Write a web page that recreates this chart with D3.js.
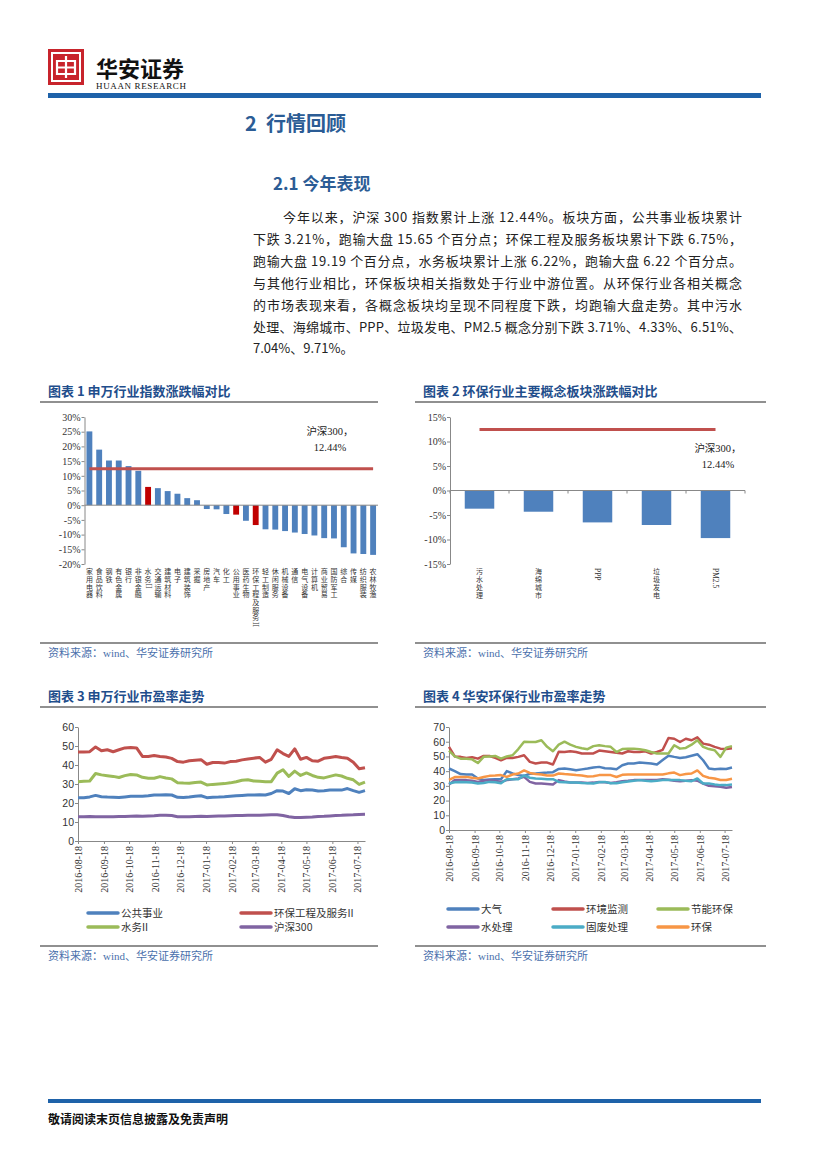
<!DOCTYPE html>
<html>
<head>
<meta charset="utf-8">
<title>华安证券 - 行情回顾</title>
<script src="https://cdn.jsdelivr.net/npm/d3@7"></script>
<style>
body { margin: 0; background: #fff; }
svg text { font-family: "Liberation Serif", "Noto Sans CJK SC", serif; fill: #222; }
.cjk { font-family: "Noto Sans CJK SC", sans-serif; }
</style>
</head>
<body>
<svg id="page" width="827" height="1169"></svg>
<script>
// ---------- data ----------
// chart 1: SW industry index change this year (%)
var industries = ["家用电器","食品饮料","钢铁","有色金属","银行","非银金融","水务II","交通运输","建筑材料","电子",
  "建筑装饰","采掘","房地产","汽车","化工","公用事业","医药生物","环保工程及服务II","轻工制造","休闲服务",
  "机械设备","通信","电气设备","计算机","商业贸易","国防军工","综合","传媒","纺织服装","农林牧渔"];
var industryChange = [25.1, 18.9, 15.2, 15.2, 13.3, 11.7, 6.22, 5.8, 4.8, 3.9,
  2.4, 1.7, -1.3, -1.4, -3.0, -3.21, -5.3, -6.75, -8.2, -8.3,
  -8.8, -9.3, -9.8, -10.3, -11.2, -11.3, -14.3, -16.4, -16.6, -16.9];
var highlighted = ["水务II","公用事业","环保工程及服务II"];
var hs300Change = 12.44;

// chart 2: environmental concept sectors (%)
var concepts = ["污水处理","海绵城市","PPP","垃圾发电","PM2.5"];
var conceptChange = [-3.71, -4.33, -6.51, -7.04, -9.71];

// charts 3 and 4: weekly P/E readings
var weekDates = ["2016-08-18","2016-08-25","2016-09-01","2016-09-08","2016-09-15","2016-09-22","2016-09-29","2016-10-06","2016-10-13","2016-10-20",
  "2016-10-27","2016-11-03","2016-11-10","2016-11-17","2016-11-24","2016-12-01","2016-12-08","2016-12-15","2016-12-22","2016-12-29",
  "2017-01-05","2017-01-12","2017-01-19","2017-01-26","2017-02-02","2017-02-09","2017-02-16","2017-02-23","2017-03-02","2017-03-09",
  "2017-03-16","2017-03-23","2017-03-30","2017-04-06","2017-04-13","2017-04-20","2017-04-27","2017-05-04","2017-05-11","2017-05-18",
  "2017-05-25","2017-06-01","2017-06-08","2017-06-15","2017-06-22","2017-06-29","2017-07-06","2017-07-13","2017-07-20","2017-07-27"];
var monthTicks = ["2016-08-18","2016-09-18","2016-10-18","2016-11-18","2016-12-18","2017-01-18",
  "2017-02-18","2017-03-18","2017-04-18","2017-05-18","2017-06-18","2017-07-18"];

var peGongyong = [22.8,22.8,23.2,24,23.3,23.1,23,22.9,23.2,23.5, 23.6,23.6,23.8,24.2,24.2,24.3,24.2,23,22.9,23.1,
  23.5,23.8,22.8,23,23.1,23.3,23.6,23.8,24,24.2, 24.2,24.3,24.2,25,26.5,26.3,25,27.5,26.5,27,
  26.8,26.3,26.5,26.8,26.8,26.8,27.6,26.5,25.6,26.5];
var peHuanbaoGc = [46.8,46.8,47,49.5,47.5,48,47,48,49,49.2, 49,44.5,44.5,45,44.5,44.2,43.5,41.8,41.5,42.2,
  42.5,42.8,40.4,41.3,41.3,41,41.8,42,42.7,43.2, 43.6,44,41.5,43,48,46,44.5,48.5,43,44,
  42.2,42,43.5,44,44.5,44,43.6,41.5,38,38.6];
var peShuiwu = [31.2,31.4,31.6,35.5,34.8,34.4,34,33.4,34.4,35, 34.8,33.5,33,33,33.9,33.2,32.7,30.7,30.5,30.4,
  30.8,31,29.5,29.8,30,30.2,30.6,31.2,32,32.2, 31.6,31.4,31.2,31.2,35.7,37.5,34,36.8,34.5,35.8,
  34.5,33.5,33.2,34,34.8,34.2,33,32.2,29.8,31];
var peHs300 = [12.7,12.8,12.9,12.8,12.7,12.7,12.8,12.9,12.9,13.0, 13.1,13.0,13.2,13.3,13.5,13.6,13.4,12.8,12.7,12.8,
  12.9,13.0,12.9,13.0,13.1,13.2,13.3,13.4,13.4,13.5, 13.5,13.6,13.7,13.8,13.8,13.4,12.8,12.4,12.4,12.5,
  12.6,12.9,13.0,13.2,13.4,13.5,13.7,13.8,14.0,14.1];

var peDaqi = [41.8,40,38,37.7,37.7,35,34,34.3,34.5,34.5, 40,38.5,37.3,36.8,38.2,38.4,38.8,39,39.3,41.5,
  41.8,41.3,40.6,41.2,41.8,42.5,42.9,42,41.8,41.3, 44,45.2,45.2,45.8,45.5,45.2,44.5,47.5,50.5,49.7,
  49,49.5,50.5,51.5,47.4,41.8,41.3,41.6,41.5,42.5];
var peJiance = [56.5,50,49.7,49,49.5,48.5,50.3,50.3,49,47.4, 49,49,49.7,50.8,46.3,45.2,45.8,45.8,44.5,53.2,
  53,53.5,53,52,52,52,54,53.5,53,52.5, 52,53.5,53,53,53.5,52,53,54.5,62.5,62,
  59.8,62,61,63,58.7,58,56.5,55.3,55,55.5];
var peJieneng = [54,50,48.5,48.5,48,45.5,49.7,50,50.3,48.5, 50,50.8,55,60,59.8,59.8,61,56.5,53.5,58,
  60,58,56.5,55.5,54.9,57,57.6,57,56.5,53, 55,55.3,55.3,54.9,54.2,53,52,52,52,57.6,
  55.3,55.8,58,61,56.5,55,54.2,49.7,56,57];
var peShuichuli = [31,33.9,33.9,33.9,33.5,32.7,33.5,33.9,33.5,32.7, 33.9,34.5,35,36.1,32.7,31.6,31.6,31.3,30.9,33.9,
  33,32.3,32.3,32.2,32,32.2,32.7,32.5,32,32.5, 33.2,33.5,33.9,33.9,33.9,33.9,34,34.5,34.2,33.5,
  33.2,33.5,33.9,33.5,31.6,30,29.8,29.4,28.7,29.2];
var peGufei = [31.6,32.5,32.7,32.5,32.3,31.6,32,32.7,32.5,31.8, 34.5,34.5,34.5,37,35.5,35,34.8,34.5,34.5,32.7,
  32.5,32.3,32.3,32,31.8,31.6,32.5,32.7,31.8,31.8, 32.5,33,33.5,33.9,33.5,33.2,33.5,33.9,34,33.9,
  33.9,33.5,33.2,35,31.6,31.6,31,30.5,30.5,31];
var peHuanbao = [34,36,36,36.1,35.5,35,36,36.8,37,37.3, 36.1,37.7,38.4,40.5,38.8,38,37.7,37,37,38.4,
  38,37.7,37.3,37,36.3,36.5,37.3,37.3,37.3,36, 37.5,37.7,37.7,37.7,37.7,37.7,37.7,37.7,38.5,39,
  37.3,38,38.4,40.5,36.8,35.5,35,34,34,34.8];

// ---------- page ----------
var svg = d3.select("#page");
var titleBlue = "#1f4e8c";
var headBlue = "#2b5c95";
var barBlue = "#4f81bd";

// header logo
var logo = svg.append("g").attr("transform", "translate(48,49)");
logo.append("rect").attr("width", 36).attr("height", 36).attr("fill", "#c8242c");
logo.append("rect").attr("x", 4).attr("y", 4).attr("width", 28).attr("height", 28)
  .attr("fill", "none").attr("stroke", "#fff").attr("stroke-width", 2);
logo.append("path").attr("d", "M9,12 H27 V25 H9 Z M18,7 V29 M9,18.5 H27")
  .attr("fill", "none").attr("stroke", "#fff").attr("stroke-width", 2.2);

svg.append("text").attr("class", "cjk").attr("x", 96).attr("y", 77)
  .style("font-size", "22px").style("font-weight", "bold").style("fill", "#111")
  .text("华安证券");
svg.append("text").attr("x", 96).attr("y", 89).attr("textLength", 90)
  .style("font-size", "9px").style("fill", "#111").text("HUAAN RESEARCH");
svg.append("rect").attr("x", 48).attr("y", 93).attr("width", 713).attr("height", 5).attr("fill", "#1e62a9");

// headings
svg.append("text").attr("class", "cjk").attr("x", 245).attr("y", 131)
  .style("font-size", "20px").style("font-weight", "bold").style("fill", headBlue)
  .attr("xml:space", "preserve").text("2  行情回顾");
svg.append("text").attr("class", "cjk").attr("x", 273).attr("y", 190)
  .style("font-size", "17px").style("font-weight", "bold").style("fill", headBlue).text("2.1 今年表现");

// paragraph
var paraLines = [
  "今年以来，沪深 300 指数累计上涨 12.44%。板块方面，公共事业板块累计",
  "下跌 3.21%，跑输大盘 15.65 个百分点；环保工程及服务板块累计下跌 6.75%，",
  "跑输大盘 19.19 个百分点，水务板块累计上涨 6.22%，跑输大盘 6.22 个百分点。",
  "与其他行业相比，环保板块相关指数处于行业中游位置。从环保行业各相关概念",
  "的市场表现来看，各概念板块均呈现不同程度下跌，均跑输大盘走势。其中污水",
  "处理、海绵城市、PPP、垃圾发电、PM2.5 概念分别下跌 3.71%、4.33%、6.51%、",
  "7.04%、9.71%。"
];
paraLines.forEach(function(line, i) {
  var t = svg.append("text").attr("class", "cjk")
    .attr("x", i === 0 ? 283 : 253).attr("y", 222 + i * 21.9)
    .style("font-size", "13px").style("fill", "#222").text(line);
  if (i < paraLines.length - 1) {
    t.attr("textLength", i === 0 ? 459 : 489).attr("lengthAdjust", "spacing");
  }
});

// chart frame helper: title, rule under it, source rule and source text
function frame(x0, x1, titleY, ruleY, srcRuleY, title) {
  svg.append("text").attr("class", "cjk").attr("x", x0 + 8).attr("y", titleY)
    .style("font-size", "13px").style("font-weight", "bold").style("fill", titleBlue).text(title);
  svg.append("line").attr("x1", x0).attr("x2", x1).attr("y1", ruleY).attr("y2", ruleY)
    .attr("stroke", "#222").attr("stroke-width", 1.2);
  svg.append("line").attr("x1", x0).attr("x2", x1).attr("y1", srcRuleY).attr("y2", srcRuleY)
    .attr("stroke", "#222").attr("stroke-width", 1.2);
  svg.append("text").attr("x", x0 + 8).attr("y", srcRuleY + 14)
    .style("font-size", "11px").style("fill", "#4a70ac").text("资料来源：wind、华安证券研究所");
}

frame(40, 378, 396, 402, 643, "图表 1 申万行业指数涨跌幅对比");
frame(415, 766, 396, 402, 643, "图表 2 环保行业主要概念板块涨跌幅对比");
frame(40, 378, 701, 707, 946, "图表 3 申万行业市盈率走势");
frame(415, 766, 701, 707, 946, "图表 4 华安环保行业市盈率走势");

// ---------- bar charts ----------
function pctAxis(g, y, x0, ticks) {
  g.append("g").attr("transform", "translate(" + x0 + ",0)")
    .call(d3.axisLeft(y).tickValues(ticks).tickSize(3).tickSizeOuter(0)
      .tickFormat(function(d) { return d + "%"; }))
    .call(function(a) {
      a.select(".domain").attr("stroke", "#888");
      a.selectAll(".tick line").attr("stroke", "#888");
      a.selectAll(".tick text").style("font-size", "10px").style("fill", "#333")
        .style("font-family", "Liberation Serif").attr("x", -4);
    });
}

// stacked vertical category labels: CJK glyphs upright (one text, tspans), latin runs turned 90deg
function verticalLabels(g, cats, x, top, size, step) {
  cats.forEach(function(label) {
    var lg = g.append("g")
      .attr("transform", "translate(" + (x(label) + x.bandwidth() / 2) + "," + top + ")");
    var runs = label.match(/[\u4e00-\u9fff]+|[^\u4e00-\u9fff]+/g);
    var cursor = 0;
    runs.forEach(function(r) {
      if (/[\u4e00-\u9fff]/.test(r)) {
        var t = lg.append("text").attr("class", "cjk").attr("text-anchor", "middle")
          .style("font-size", size + "px").style("fill", "#333");
        r.split("").forEach(function(ch, k) {
          t.append("tspan").attr("x", 0).attr("y", cursor + size * 0.88 + k * step).text(ch);
        });
        cursor += r.length * step;
      } else {
        var tl = lg.append("text").attr("transform", "translate(0," + cursor + ") rotate(90)")
          .attr("dy", "0.33em").style("font-size", (size + 0.5) + "px").style("fill", "#333").text(r);
        cursor += tl.node().getComputedTextLength() + 1;
      }
    });
  });
}

// chart 1
(function() {
  var g = svg.append("g");
  var x = d3.scaleBand().domain(industries).range([84.5, 378]).paddingInner(0.4).paddingOuter(0.2);
  var y = d3.scaleLinear().domain([-20, 30]).range([564, 417]);
  pctAxis(g, y, 84.5, d3.range(-20, 31, 5));
  g.selectAll("rect.bar").data(industries).enter().append("rect")
    .attr("class", "bar")
    .attr("x", function(d) { return x(d); })
    .attr("width", x.bandwidth())
    .attr("y", function(d, i) { return y(Math.max(0, industryChange[i])); })
    .attr("height", function(d, i) { return Math.abs(y(industryChange[i]) - y(0)); })
    .attr("fill", function(d) { return highlighted.indexOf(d) >= 0 ? "#c00000" : barBlue; });
  g.append("line").attr("x1", 84.5).attr("x2", 378).attr("y1", y(0)).attr("y2", y(0)).attr("stroke", "#888");
  var first = industries[0], last = industries[industries.length - 1];
  g.append("line")
    .attr("x1", x(first) + x.bandwidth() / 2).attr("x2", x(last) + x.bandwidth() / 2)
    .attr("y1", y(hs300Change)).attr("y2", y(hs300Change))
    .attr("stroke", "#c0504d").attr("stroke-width", 3);
  g.append("text").attr("x", 330).attr("y", 435).attr("text-anchor", "middle")
    .style("font-size", "10.5px").text("沪深300，");
  g.append("text").attr("x", 330).attr("y", 451).attr("text-anchor", "middle")
    .style("font-size", "10.5px").text(hs300Change + "%");
  verticalLabels(g, industries, x, 568, 7, 7.7);
})();

// chart 2
(function() {
  var g = svg.append("g");
  var x = d3.scaleBand().domain(concepts).range([450, 745]).paddingInner(0.5).paddingOuter(0.25);
  var y = d3.scaleLinear().domain([-15, 15]).range([564, 417]);
  pctAxis(g, y, 450, d3.range(-15, 16, 5));
  g.selectAll("rect.bar").data(concepts).enter().append("rect")
    .attr("class", "bar")
    .attr("x", function(d) { return x(d); })
    .attr("width", x.bandwidth())
    .attr("y", function(d, i) { return y(Math.max(0, conceptChange[i])); })
    .attr("height", function(d, i) { return Math.abs(y(conceptChange[i]) - y(0)); })
    .attr("fill", barBlue);
  g.append("line").attr("x1", 450).attr("x2", 745).attr("y1", y(0)).attr("y2", y(0)).attr("stroke", "#888");
  g.selectAll("line.tk").data(d3.range(concepts.length + 1)).enter().append("line")
    .attr("class", "tk")
    .attr("x1", function(i) { return 450 + i * x.step(); })
    .attr("x2", function(i) { return 450 + i * x.step(); })
    .attr("y1", y(0)).attr("y2", y(0) + 3).attr("stroke", "#888");
  var first = concepts[0], last = concepts[concepts.length - 1];
  g.append("line")
    .attr("x1", x(first) + x.bandwidth() / 2).attr("x2", x(last) + x.bandwidth() / 2)
    .attr("y1", y(hs300Change)).attr("y2", y(hs300Change))
    .attr("stroke", "#c0504d").attr("stroke-width", 3);
  g.append("text").attr("x", 718).attr("y", 452).attr("text-anchor", "middle")
    .style("font-size", "10.5px").text("沪深300，");
  g.append("text").attr("x", 718).attr("y", 468).attr("text-anchor", "middle")
    .style("font-size", "10.5px").text(hs300Change + "%");
  verticalLabels(g, concepts, x, 568, 7, 7.9);
})();

// ---------- line charts ----------
var parseDate = d3.timeParse("%Y-%m-%d");
var dates = weekDates.map(parseDate);
var tickDates = monthTicks.map(parseDate);

function lineChart(opt) {
  var g = svg.append("g");
  var x = d3.scaleTime().domain(d3.extent(dates)).range([opt.x0, opt.x1]);
  var y = d3.scaleLinear().domain([0, opt.ymax]).range([opt.y0, opt.ytop]);
  g.append("g").attr("transform", "translate(" + opt.x0 + ",0)")
    .call(d3.axisLeft(y).ticks(opt.ymax / 10).tickSize(3).tickSizeOuter(0))
    .call(function(a) {
      a.select(".domain").attr("stroke", "#888");
      a.selectAll(".tick line").attr("stroke", "#888");
      a.selectAll(".tick text").style("font-size", "10.5px").style("fill", "#333")
        .style("font-family", "Liberation Sans").attr("x", -4);
    });
  var xa = g.append("g").attr("transform", "translate(0," + opt.y0 + ")")
    .call(d3.axisBottom(x).tickValues(tickDates).tickSize(3).tickSizeOuter(0)
      .tickFormat(d3.timeFormat("%Y-%m-%d")));
  xa.select(".domain").attr("stroke", "#888");
  xa.selectAll(".tick line").attr("stroke", "#888");
  xa.selectAll(".tick text").style("font-size", "10px").style("fill", "#333")
    .attr("text-anchor", "end").attr("transform", "rotate(-90)")
    .attr("x", -5).attr("y", 0).attr("dy", "0.35em");

  var line = d3.line().x(function(d, i) { return x(dates[i]); }).y(function(d) { return y(d); });
  opt.series.forEach(function(s) {
    g.append("path").datum(s.values).attr("fill", "none")
      .attr("stroke", s.color).attr("stroke-width", opt.lw).attr("stroke-linejoin", "round")
      .attr("d", line);
  });
  opt.series.forEach(function(s, i) {
    var lx = opt.legendX[i % opt.cols], ly = opt.legendY[Math.floor(i / opt.cols)];
    g.append("line").attr("x1", lx).attr("x2", lx + 30).attr("y1", ly).attr("y2", ly)
      .attr("stroke", s.color).attr("stroke-width", 3.5).attr("stroke-linecap", "round");
    g.append("text").attr("class", "cjk").attr("x", lx + 33).attr("y", ly).attr("dy", "0.36em")
      .style("font-size", "10.5px").style("fill", "#333").text(s.name);
  });
}

lineChart({
  x0: 78, x1: 365, y0: 841, ytop: 727, ymax: 60, lw: 3,
  cols: 2, legendX: [88, 241], legendY: [913, 927],
  series: [
    { name: "公共事业", values: peGongyong, color: "#4f81bd" },
    { name: "环保工程及服务II", values: peHuanbaoGc, color: "#c0504d" },
    { name: "水务II", values: peShuiwu, color: "#9bbb59" },
    { name: "沪深300", values: peHs300, color: "#8064a2" }
  ]
});

lineChart({
  x0: 449, x1: 732, y0: 830, ytop: 727, ymax: 70, lw: 2.5,
  cols: 3, legendX: [448, 553, 658], legendY: [909, 927],
  series: [
    { name: "大气", values: peDaqi, color: "#4f81bd" },
    { name: "环境监测", values: peJiance, color: "#c0504d" },
    { name: "节能环保", values: peJieneng, color: "#9bbb59" },
    { name: "水处理", values: peShuichuli, color: "#8064a2" },
    { name: "固废处理", values: peGufei, color: "#4bacc6" },
    { name: "环保", values: peHuanbao, color: "#f79646" }
  ]
});

// footer
svg.append("rect").attr("x", 48).attr("y", 1099).attr("width", 713).attr("height", 4).attr("fill", "#1e62a9");
svg.append("text").attr("class", "cjk").attr("x", 48).attr("y", 1124)
  .style("font-size", "12px").style("font-weight", "bold").style("fill", "#111")
  .text("敬请阅读末页信息披露及免责声明");
</script>
</body>
</html>
